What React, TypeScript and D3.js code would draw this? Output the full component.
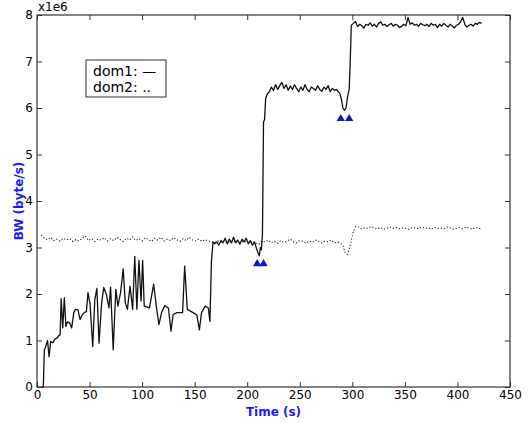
import React, { useEffect, useRef } from "react";
import * as d3 from "d3";

// time (s), bandwidth (x1e6 byte/s)
const dom1: [number, number][] = [
  [4, 0], [6, 0], [7, 0.8], [8, 0.85], [10, 1.0], [11.5, 0.65], [13, 0.98], [15, 0.95],
  [17, 1.03], [19, 1.05], [20.5, 1.1], [22, 1.12], [23, 1.9], [24.5, 1.27], [26, 1.92],
  [27.5, 1.3], [29, 1.4], [31, 1.38], [33, 1.27], [35, 1.6], [36.5, 1.67], [39, 1.66],
  [41, 1.45], [43, 1.55], [45, 1.6], [47, 1.62], [48.5, 2.03], [50.5, 1.78], [53, 0.87],
  [55, 1.88], [57, 2.12], [59, 0.94], [61.5, 1.81], [63.5, 2.14], [66, 1.99], [68.5, 1.7],
  [70, 2.15], [72.5, 0.8], [75, 2.1], [77, 1.74], [79.5, 2.03], [82, 2.54], [84, 1.81],
  [86, 1.67], [88.5, 2.17], [91, 1.67], [93, 2.81], [95, 1.67], [97, 2.72], [99, 1.85],
  [100.5, 2.72], [102, 1.74], [107, 1.7], [111, 2.21], [113.5, 1.74], [116, 1.34],
  [118.5, 1.6], [121.5, 1.75], [125, 1.7], [127.5, 1.2], [129.5, 1.56], [133, 1.6],
  [138.5, 1.6], [140.5, 2.6], [143, 1.67], [148.5, 1.6], [152, 1.55], [154.5, 1.23],
  [156.5, 1.6], [160, 1.74], [163, 1.7], [164.5, 1.41], [166, 2.72], [167.5, 3.12],
  [169, 3.08], [171, 3.12], [173, 3.05], [175, 3.15], [177, 3.1], [179, 3.2], [181, 3.08],
  [183, 3.18], [185, 3.1], [187, 3.22], [189, 3.1], [191, 3.16], [193, 3.07], [195, 3.18],
  [197, 3.12], [199, 3.2], [201, 3.08], [203, 3.15], [205, 3.05], [207, 3.12], [208.5, 3.0],
  [210, 2.9], [211.5, 2.82], [212.5, 3.0], [213.5, 2.95], [214.5, 3.3], [215.5, 5.7],
  [216.5, 5.75], [217.5, 6.2], [219, 6.3], [221, 6.35], [223, 6.45], [225, 6.38], [227, 6.5],
  [229, 6.4], [231, 6.48], [233, 6.55], [235, 6.42], [237, 6.5], [239, 6.38], [241, 6.47],
  [243, 6.4], [245, 6.5], [247, 6.42], [249, 6.35], [251, 6.45], [253, 6.38], [255, 6.5],
  [257, 6.4], [259, 6.35], [261, 6.45], [263, 6.42], [265, 6.38], [267, 6.48], [269, 6.4],
  [271, 6.36], [273, 6.45], [275, 6.4], [277, 6.48], [279, 6.35], [281, 6.42], [283, 6.38],
  [285, 6.4], [286.5, 6.35], [288, 6.32], [289.5, 6.2], [291, 6.0], [292.5, 5.95], [294, 6.0],
  [295.5, 6.25], [297, 6.4], [298, 7.0], [299, 7.78], [301, 7.82], [303, 7.86], [305, 7.75],
  [307, 7.8], [309, 7.77], [311, 7.72], [313, 7.8], [315, 7.78], [317, 7.83], [319, 7.76],
  [321, 7.8], [323, 7.74], [325, 7.82], [327, 7.85], [329, 7.78], [331, 7.8], [333, 7.75],
  [335, 7.79], [337, 7.82], [339, 7.76], [341, 7.8], [343, 7.78], [345, 7.73], [347, 7.76],
  [349, 7.8], [351, 7.77], [353, 7.95], [355, 7.8], [357, 7.83], [359, 7.78], [361, 7.8],
  [363, 7.76], [365, 7.82], [367, 7.79], [369, 7.77], [371, 7.8], [373, 7.75], [375, 7.82],
  [377, 7.78], [379, 7.8], [381, 7.73], [383, 7.8], [385, 7.76], [387, 7.82], [389, 7.78],
  [391, 7.74], [393, 7.8], [395, 7.77], [397, 7.72], [399, 7.78], [401, 7.8], [403, 7.85],
  [405, 7.95], [407, 7.8], [409, 7.74], [411, 7.78], [413, 7.8], [415, 7.76], [417, 7.82],
  [419, 7.8], [421, 7.84], [423, 7.82],
];

const dom2: [number, number][] = [
  [4, 3.27], [7, 3.2], [10, 3.17], [13, 3.22], [16, 3.15], [19, 3.18], [22, 3.14], [25, 3.2],
  [28, 3.16], [31, 3.19], [34, 3.13], [37, 3.17], [40, 3.14], [43, 3.2], [46, 3.25], [49, 3.15],
  [52, 3.19], [55, 3.13], [58, 3.18], [61, 3.16], [64, 3.21], [67, 3.14], [70, 3.19], [73, 3.15],
  [76, 3.22], [79, 3.17], [82, 3.13], [85, 3.2], [88, 3.16], [91, 3.23], [94, 3.15], [97, 3.19],
  [100, 3.14], [103, 3.21], [106, 3.17], [109, 3.13], [112, 3.2], [115, 3.16], [118, 3.22],
  [121, 3.14], [124, 3.18], [127, 3.15], [130, 3.21], [133, 3.17], [136, 3.13], [139, 3.19],
  [142, 3.15], [145, 3.22], [148, 3.16], [151, 3.14], [154, 3.18], [157, 3.13], [160, 3.17],
  [163, 3.14], [166, 3.12], [169, 3.1], [172, 3.14], [175, 3.11], [178, 3.15], [181, 3.09],
  [184, 3.13], [187, 3.11], [190, 3.16], [193, 3.1], [196, 3.14], [199, 3.12], [202, 3.09],
  [205, 3.13], [208, 3.11], [211, 3.06], [214, 3.14], [217, 3.12], [220, 3.16], [223, 3.1],
  [226, 3.13], [229, 3.09], [232, 3.15], [235, 3.11], [238, 3.14], [241, 3.18], [244, 3.12],
  [247, 3.1], [250, 3.15], [253, 3.13], [256, 3.09], [259, 3.14], [262, 3.11], [265, 3.16],
  [268, 3.13], [271, 3.1], [274, 3.14], [277, 3.12], [280, 3.16], [283, 3.1], [286, 3.12],
  [289, 3.08], [291, 3.05], [293, 2.9], [295, 2.85], [297, 2.95], [299, 3.15], [301, 3.35],
  [303, 3.45], [306, 3.44], [309, 3.4], [312, 3.43], [315, 3.41], [318, 3.45], [321, 3.42],
  [324, 3.4], [327, 3.43], [330, 3.39], [333, 3.42], [336, 3.44], [339, 3.41], [342, 3.43],
  [345, 3.4], [348, 3.42], [351, 3.41], [354, 3.39], [357, 3.43], [360, 3.42], [363, 3.4],
  [366, 3.44], [369, 3.41], [372, 3.42], [375, 3.39], [378, 3.43], [381, 3.41], [384, 3.42],
  [387, 3.4], [390, 3.44], [393, 3.42], [396, 3.39], [399, 3.41], [402, 3.43], [405, 3.4],
  [408, 3.44], [411, 3.42], [414, 3.39], [417, 3.43], [420, 3.41], [423, 3.4],
];

// blue triangle markers
const markers: [number, number][] = [
  [209.5, 2.65], [215.5, 2.65], [289, 5.77], [297, 5.77],
];

const xTicks = [0, 50, 100, 150, 200, 250, 300, 350, 400, 450];
const yTicks = [0, 1, 2, 3, 4, 5, 6, 7, 8];
const legendLabels = ["dom1: \u2014", "dom2: .."];

const W = 528, H = 423;
const plot = { left: 37, right: 510, top: 15, bottom: 387 };

const App = () => {
  const svgRef = useRef(null);

  useEffect(() => {
    const svg = d3.select(svgRef.current);
    svg.selectAll("*").remove();

    const x = d3.scaleLinear().domain([0, 450]).range([plot.left, plot.right]);
    const y = d3.scaleLinear().domain([0, 8]).range([plot.bottom, plot.top]);
    const font = "'DejaVu Sans', sans-serif";

    svg.append("rect").attr("width", W).attr("height", H).attr("fill", "#fff");

    const line = d3.line<[number, number]>().x((d) => x(d[0])).y((d) => y(d[1]));

    // dom2 dotted
    svg.append("path")
      .datum(dom2)
      .attr("fill", "none")
      .attr("stroke", "#222")
      .attr("stroke-width", 1.1)
      .attr("stroke-dasharray", "1.2 2")
      .attr("d", line);

    // dom1 solid
    svg.append("path")
      .datum(dom1)
      .attr("fill", "none")
      .attr("stroke", "#111")
      .attr("stroke-width", 1.3)
      .attr("stroke-linejoin", "round")
      .attr("d", line);

    // markers
    svg.selectAll(".mk")
      .data(markers)
      .join("path")
      .attr("class", "mk")
      .attr("transform", (d) => `translate(${x(d[0])},${y(d[1])})`)
      .attr("d", d3.symbol(d3.symbolTriangle, 30))
      .attr("fill", "#1414c8");

    // axes, ticks pointing inward on all sides
    const styleAxis = (g) => {
      g.select(".domain").remove();
      g.selectAll("line").attr("stroke", "#333");
      g.selectAll("text").attr("font-family", font).attr("font-size", 12).attr("fill", "#000");
    };
    svg.append("g")
      .attr("transform", `translate(0,${plot.bottom})`)
      .call(d3.axisBottom(x).tickValues(xTicks).tickSize(-5).tickPadding(3).tickFormat(d3.format("d")))
      .call(styleAxis);
    svg.append("g")
      .attr("transform", `translate(${plot.left},0)`)
      .call(d3.axisLeft(y).tickValues(yTicks).tickSize(-5).tickPadding(4).tickFormat(d3.format("d")))
      .call(styleAxis);
    svg.append("g")
      .attr("transform", `translate(0,${plot.top})`)
      .call(d3.axisTop(x).tickValues(xTicks).tickSize(-5).tickFormat(() => ""))
      .call(styleAxis);
    svg.append("g")
      .attr("transform", `translate(${plot.right},0)`)
      .call(d3.axisRight(y).tickValues(yTicks).tickSize(-5).tickFormat(() => ""))
      .call(styleAxis);

    // frame
    svg.append("rect")
      .attr("x", plot.left).attr("y", plot.top)
      .attr("width", plot.right - plot.left).attr("height", plot.bottom - plot.top)
      .attr("fill", "none").attr("stroke", "#333").attr("stroke-width", 1.2);

    svg.append("text")
      .attr("x", plot.left + 1).attr("y", 11)
      .attr("font-family", font).attr("font-size", 12)
      .text("x1e6");

    // axis labels
    svg.append("text")
      .attr("x", (plot.left + plot.right) / 2).attr("y", 416)
      .attr("text-anchor", "middle")
      .attr("font-family", font).attr("font-size", 12).attr("font-weight", "bold")
      .attr("fill", "#1a1aff")
      .text("Time (s)");
    svg.append("text")
      .attr("transform", `translate(23,${(plot.top + plot.bottom) / 2}) rotate(-90)`)
      .attr("text-anchor", "middle")
      .attr("font-family", font).attr("font-size", 12).attr("font-weight", "bold")
      .attr("fill", "#1a1aff")
      .text("BW (byte/s)");

    // legend
    const lg = svg.append("g").attr("transform", "translate(86,60)");
    lg.append("rect").attr("width", 80).attr("height", 37)
      .attr("fill", "#fff").attr("stroke", "#333").attr("stroke-width", 1);
    lg.selectAll("text")
      .data(legendLabels)
      .join("text")
      .attr("x", 7).attr("y", (d, i) => 16 + i * 16)
      .attr("font-family", font).attr("font-size", 14)
      .text((d) => d);

    return () => {
      svg.selectAll("*").remove();
    };
  }, []);

  return (
    <svg ref={svgRef} width={W} height={H}
      style={{ position: "absolute", left: 0, top: 0, display: "block" }}></svg>
  );
};

export default App;
